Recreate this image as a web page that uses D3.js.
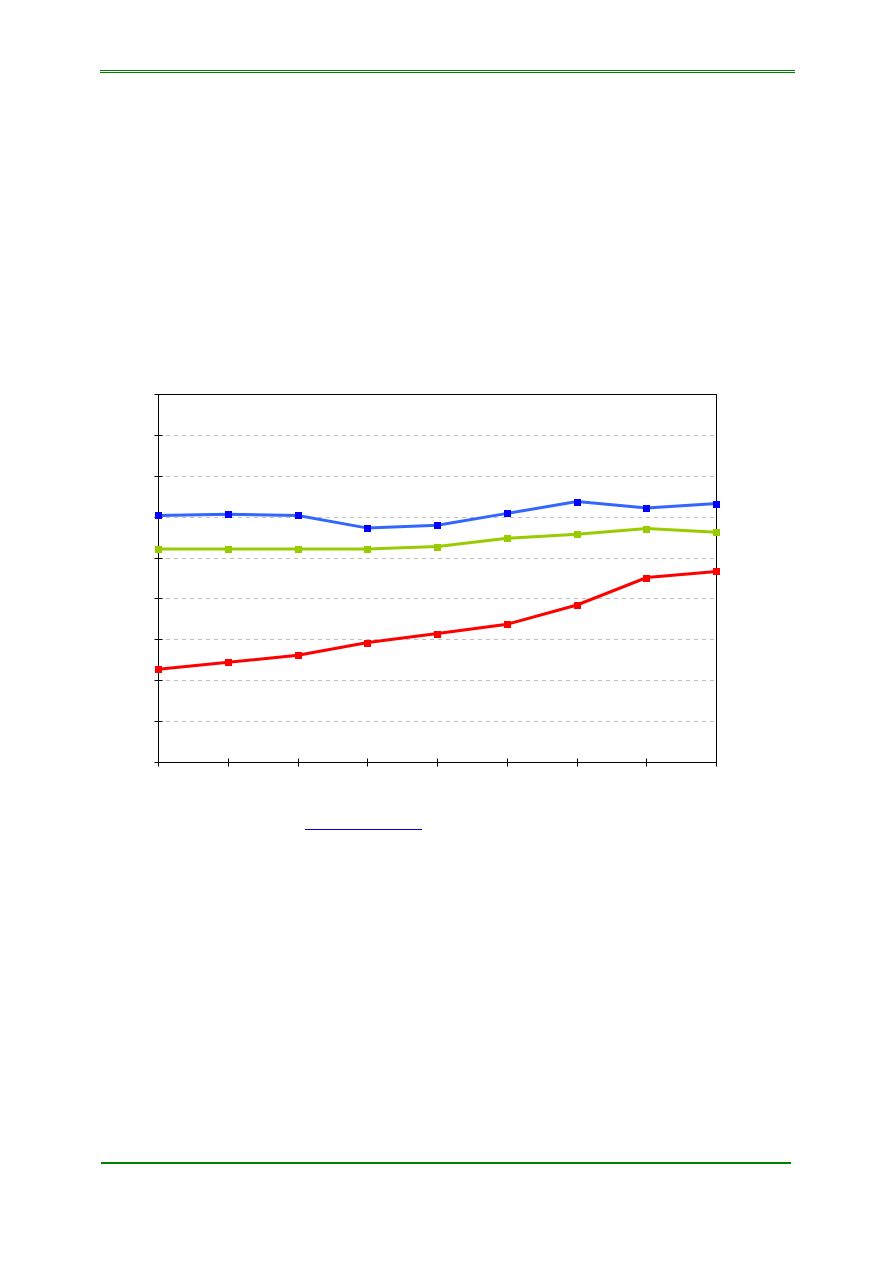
<!DOCTYPE html>
<html lang="en">
<head>
    <meta charset="UTF-8">
    <title>Chart</title>
    <script src="https://d3js.org/d3.v7.min.js"></script>
    <style>
        html, body {
            margin: 0;
            padding: 0;
            background: white;
        }
        svg {
            display: block;
        }
    </style>
</head>
<body>
<div id="page"></div>
<script>
    // categories (no labels shown on the chart) and the three series
    var categories = [1, 2, 3, 4, 5, 6, 7, 8, 9];
    var yTicks = [0, 10, 20, 30, 40, 50, 60, 70, 80, 90];

    var blueValues = [60.3, 60.6, 60.3, 57.2, 57.9, 60.8, 63.7, 62.1, 63.2];
    var greenValues = [52.1, 52.1, 52.1, 52.1, 52.7, 54.7, 55.7, 57.1, 56.2];
    var redValues = [22.7, 24.4, 26.1, 29.2, 31.4, 33.7, 38.4, 45.1, 46.6];

    var series = [
        { values: greenValues, line: "#99cc00", marker: "#99cc00" },
        { values: blueValues, line: "#3366ff", marker: "#0000ff" },
        { values: redValues, line: "#ff0000", marker: "#ff0000" }
    ];

    var width = 893, height = 1263;
    var plot = { left: 158, right: 716, top: 394, bottom: 762 };

    // snap 1px lines onto pixel centres
    var crisp = v => Math.round(v) + 0.5;

    var svg = d3.select("#page").append("svg")
        .attr("width", width)
        .attr("height", height);

    // page header / footer rules
    svg.append("line")
        .attr("x1", 100).attr("x2", 795)
        .attr("y1", 70.5).attr("y2", 70.5)
        .attr("stroke", "#008000").attr("stroke-width", 1);
    svg.append("line")
        .attr("x1", 100).attr("x2", 795)
        .attr("y1", 72.5).attr("y2", 72.5)
        .attr("stroke", "#008000").attr("stroke-width", 1);
    svg.append("line")
        .attr("x1", 101).attr("x2", 791)
        .attr("y1", 1163).attr("y2", 1163)
        .attr("stroke", "#008000").attr("stroke-width", 2);

    var x = d3.scalePoint()
        .domain(categories)
        .range([plot.left, plot.right]);

    var y = d3.scaleLinear()
        .domain([0, 90])
        .range([plot.bottom, plot.top]);

    // dashed gridlines
    svg.append("g")
        .selectAll("line")
        .data(yTicks.slice(1, -1))
        .enter().append("line")
        .attr("x1", plot.left).attr("x2", plot.right)
        .attr("y1", d => crisp(y(d))).attr("y2", d => crisp(y(d)))
        .attr("stroke", "#c0c0c0")
        .attr("stroke-width", 1)
        .attr("stroke-dasharray", "4,4");

    // plot border
    svg.append("rect")
        .attr("x", crisp(plot.left)).attr("y", crisp(plot.top))
        .attr("width", plot.right - plot.left)
        .attr("height", plot.bottom - plot.top)
        .attr("fill", "none")
        .attr("stroke", "black")
        .attr("stroke-width", 1);

    // axes with cross ticks, no labels
    svg.append("g")
        .selectAll("line")
        .data(yTicks)
        .enter().append("line")
        .attr("x1", crisp(plot.left) - 4).attr("x2", crisp(plot.left) + 4)
        .attr("y1", d => crisp(y(d))).attr("y2", d => crisp(y(d)))
        .attr("stroke", "black");

    svg.append("g")
        .selectAll("line")
        .data(categories)
        .enter().append("line")
        .attr("x1", d => crisp(x(d))).attr("x2", d => crisp(x(d)))
        .attr("y1", crisp(plot.bottom) - 4).attr("y2", crisp(plot.bottom) + 4)
        .attr("stroke", "black");

    var line = d3.line()
        .x((d, i) => x(categories[i]) + 0.5)
        .y(d => y(d));

    series.forEach(function (s) {
        var g = svg.append("g");
        g.append("path")
            .datum(s.values)
            .attr("d", line)
            .attr("fill", "none")
            .attr("stroke", s.line)
            .attr("stroke-width", 3);
        g.selectAll("rect")
            .data(s.values)
            .enter().append("rect")
            .attr("x", (d, i) => Math.round(x(categories[i])) - 3)
            .attr("y", d => Math.round(y(d)) - 3)
            .attr("width", 7)
            .attr("height", 7)
            .attr("fill", s.marker);
    });

    // underline below the chart
    svg.append("line")
        .attr("x1", 305).attr("x2", 422)
        .attr("y1", 829.5).attr("y2", 829.5)
        .attr("stroke", "#0000cc")
        .attr("stroke-width", 1);
</script>
</body>
</html>
